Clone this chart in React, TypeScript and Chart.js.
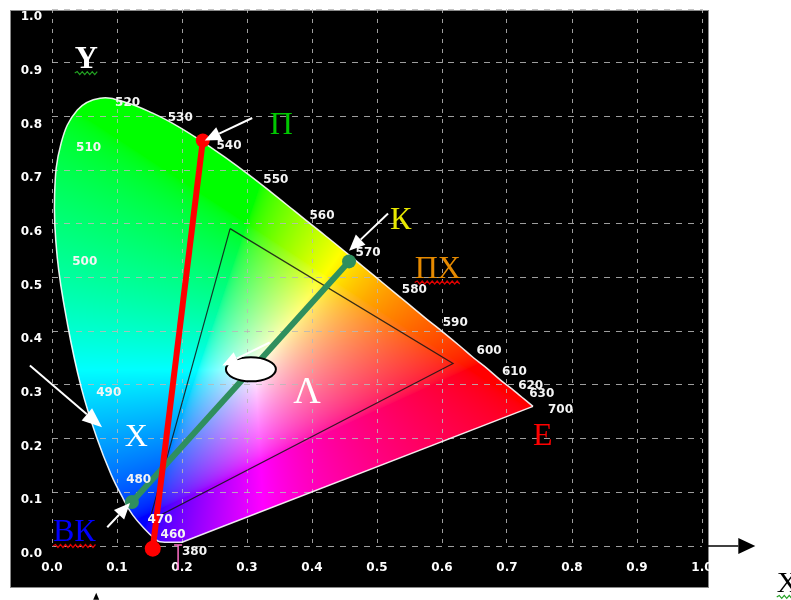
import React, { useEffect, useRef } from 'react';
import { Chart, registerables } from 'chart.js';
Chart.register(...registerables);

// Spectral locus (CIE xy)
const WAVELENGTHS = [380, 440, 450, 460, 470, 475, 480, 485, 490, 495, 500, 505, 510, 515, 520, 525, 530, 535, 540, 545, 550, 555, 560, 565, 570, 575, 580, 585, 590, 595, 600, 605, 610, 620, 630, 640, 650, 700];
const LOCUS_X = [0.200, 0.166, 0.157, 0.144, 0.124, 0.110, 0.091, 0.069, 0.045, 0.024, 0.008, 0.004, 0.014, 0.039, 0.074, 0.114, 0.155, 0.193, 0.230, 0.266, 0.302, 0.337, 0.373, 0.409, 0.444, 0.479, 0.512, 0.545, 0.575, 0.603, 0.627, 0.648, 0.666, 0.691, 0.708, 0.719, 0.728, 0.740];
const LOCUS_Y = [0.007, 0.008, 0.015, 0.030, 0.058, 0.087, 0.133, 0.201, 0.295, 0.412, 0.538, 0.655, 0.750, 0.812, 0.834, 0.826, 0.806, 0.782, 0.754, 0.724, 0.692, 0.659, 0.624, 0.589, 0.555, 0.520, 0.487, 0.454, 0.424, 0.397, 0.373, 0.351, 0.334, 0.308, 0.292, 0.281, 0.272, 0.260];
const LABELLED_WAVELENGTHS = [380, 460, 470, 480, 490, 500, 510, 520, 530, 540, 550, 560, 570, 580, 590, 600, 610, 620, 630, 700];

// Red line (П)
const RED_X = [0.155, 0.232];
const RED_Y = [-0.005, 0.755];
// Green line (ВК – К)
const GREEN_X = [0.123, 0.457];
const GREEN_Y = [0.082, 0.530];
// Triangle (Λ)
const TRI_X = [0.274, 0.617, 0.150, 0.274];
const TRI_Y = [0.591, 0.340, 0.047, 0.591];
// White point ellipse centre
const WHITE_X = 0.306;
const WHITE_Y = 0.329;

const TICK_LABELS = ['0.0', '0.1', '0.2', '0.3', '0.4', '0.5', '0.6', '0.7', '0.8', '0.9', '1.0'];

// Annotations (data coordinates)
const ARROWS = [
  { x0: 0.308, y0: 0.797, x1: 0.235, y1: 0.755 },
  { x0: 0.517, y0: 0.619, x1: 0.457, y1: 0.550 },
  { x0: 0.335, y0: 0.379, x1: 0.262, y1: 0.336 },
  { x0: -0.034, y0: 0.336, x1: 0.077, y1: 0.221 },
  { x0: 0.085, y0: 0.035, x1: 0.120, y1: 0.080 },
];
const LETTERS = [
  { text: 'Y', x: 0.035, y: 0.890, color: '#ffffff', font: 'bold 32px "Liberation Serif"', squiggle: '#22a022' },
  { text: 'П', x: 0.335, y: 0.768, color: '#00c800', font: '32px "Liberation Serif"' },
  { text: 'К', x: 0.520, y: 0.591, color: '#e8e800', font: '32px "Liberation Serif"' },
  { text: 'ПХ', x: 0.558, y: 0.500, color: '#e68a00', font: '32px "Liberation Serif"', squiggle: '#e00000' },
  { text: 'Λ', x: 0.371, y: 0.266, color: '#ffffff', font: '38px "Liberation Serif"' },
  { text: 'Х', x: 0.112, y: 0.186, color: '#ffffff', font: '32px "Liberation Serif"' },
  { text: 'Е', x: 0.740, y: 0.188, color: '#ff0000', font: '32px "Liberation Serif"' },
  { text: 'ВК', x: 0.0015, y: 0.0093, color: '#0000ff', font: '32px "Liberation Serif"', squiggle: '#e00000' },
  { text: 'X', x: 1.115, y: -0.0855, color: '#000000', font: '30px "Liberation Serif"', squiggle: '#22a022' },
];

const CURVE_INDEX = 3;

function xyToRgb(x: number, y: number): [number, number, number] {
  const X = x / y;
  const Y = 1;
  const Z = (1 - x - y) / y;
  let r = 3.2406 * X - 1.5372 * Y - 0.4986 * Z;
  let g = -0.9689 * X + 1.8758 * Y + 0.0415 * Z;
  let b = 0.0557 * X - 0.204 * Y + 1.057 * Z;
  r = Math.max(r, 0); g = Math.max(g, 0); b = Math.max(b, 0);
  const m = Math.max(r, g, b) || 1;
  const gm = 1 / 1.8;
  return [Math.pow(r / m, gm) * 255, Math.pow(g / m, gm) * 255, Math.pow(b / m, gm) * 255];
}

function locusPath(chart: any, ctx: CanvasRenderingContext2D) {
  const meta = chart.getDatasetMeta(CURVE_INDEX);
  if (meta.dataset && meta.dataset.updateControlPoints) meta.dataset.updateControlPoints(chart.chartArea, 'x');
  const pts = meta.data as any[];
  ctx.beginPath();
  ctx.moveTo(pts[0].x, pts[0].y);
  for (let i = 1; i < pts.length; i++) {
    const p = pts[i - 1], q = pts[i];
    if (p.cp2x !== undefined && q.cp1x !== undefined) ctx.bezierCurveTo(p.cp2x, p.cp2y, q.cp1x, q.cp1y, q.x, q.y);
    else ctx.lineTo(q.x, q.y);
  }
  ctx.closePath();
}

const backdropPlugin = {
  id: 'backdrop',
  beforeDraw(chart: any) {
    const { ctx, chartArea } = chart;
    const xs = chart.scales.x, ys = chart.scales.y;
    ctx.save();
    ctx.fillStyle = '#000';
    ctx.fillRect(10, 10, 698, 577);
    ctx.strokeStyle = '#8a8a8a';
    ctx.lineWidth = 1;
    ctx.strokeRect(10.5, 10.5, 698, 577);

    const left = Math.floor(chartArea.left), top = Math.floor(chartArea.top);
    const w = Math.ceil(chartArea.right - chartArea.left), h = Math.ceil(chartArea.bottom - chartArea.top) + 2;
    const off = document.createElement('canvas');
    off.width = w; off.height = h;
    const octx = off.getContext('2d')!;
    const img = octx.createImageData(w, h);
    for (let j = 0; j < h; j++) {
      const yv = Math.max(ys.getValueForPixel(top + j + 0.5), 0.002);
      for (let i = 0; i < w; i++) {
        const xv = xs.getValueForPixel(left + i + 0.5);
        const [r, g, b] = xyToRgb(xv, yv);
        const k = (j * w + i) * 4;
        img.data[k] = r; img.data[k + 1] = g; img.data[k + 2] = b; img.data[k + 3] = 255;
      }
    }
    octx.putImageData(img, 0, 0);
    locusPath(chart, ctx);
    ctx.clip();
    ctx.drawImage(off, left, top);
    ctx.restore();
  },
};

function drawArrow(ctx: CanvasRenderingContext2D, x0: number, y0: number, x1: number, y1: number, color: string, len = 16, half = 7, width = 2) {
  const ang = Math.atan2(y1 - y0, x1 - x0);
  const bx = x1 - Math.cos(ang) * len, by = y1 - Math.sin(ang) * len;
  ctx.strokeStyle = color; ctx.fillStyle = color; ctx.lineWidth = width;
  ctx.beginPath(); ctx.moveTo(x0, y0); ctx.lineTo(bx, by); ctx.stroke();
  ctx.beginPath();
  ctx.moveTo(x1, y1);
  ctx.lineTo(bx + Math.sin(ang) * half, by - Math.cos(ang) * half);
  ctx.lineTo(bx - Math.sin(ang) * half, by + Math.cos(ang) * half);
  ctx.closePath(); ctx.fill();
}

function squiggle(ctx: CanvasRenderingContext2D, x0: number, x1: number, y: number, color: string) {
  ctx.strokeStyle = color; ctx.lineWidth = 1.2;
  ctx.beginPath(); ctx.moveTo(x0, y);
  let up = true;
  for (let x = x0 + 2.5; x <= x1; x += 2.5) { ctx.lineTo(x, y + (up ? -1.5 : 1.5)); up = !up; }
  ctx.stroke();
}

const overlayPlugin = {
  id: 'overlay',
  afterDatasetsDraw(chart: any) {
    const { ctx } = chart;
    const xs = chart.scales.x, ys = chart.scales.y;
    const P = (x: number, y: number) => [xs.getPixelForValue(x), ys.getPixelForValue(y)];
    ctx.save();

    // white point ellipse
    const [ex, ey] = P(WHITE_X, WHITE_Y);
    ctx.beginPath();
    ctx.ellipse(ex, ey, 25, 12, 0, 0, Math.PI * 2);
    ctx.fillStyle = '#fff'; ctx.fill();
    ctx.strokeStyle = '#000'; ctx.lineWidth = 2; ctx.stroke();

    // wavelength labels
    ctx.font = 'bold 12px "DejaVu Sans"';
    ctx.fillStyle = '#f4f4f4';
    ctx.textBaseline = 'middle';
    ctx.textAlign = 'left';
    LABELLED_WAVELENGTHS.forEach((wl) => {
      const i = WAVELENGTHS.indexOf(wl);
      const [px, py] = P(LOCUS_X[i], LOCUS_Y[i]);
      let dx = 15, dy = 5;
      if (wl === 380) { dx = 0; dy = 10; }
      if (wl >= 580 && wl <= 630) dx = 17;
      if (wl === 700) dy = 3;
      ctx.fillText(String(wl), px + dx, py + dy);
    });

    // 380 pink marker
    const [mx, my] = P(0.194, 0.002);
    ctx.strokeStyle = '#ff6ec7'; ctx.lineWidth = 1.5;
    ctx.beginPath(); ctx.moveTo(mx - 4, my); ctx.lineTo(mx + 4, my); ctx.moveTo(mx, my); ctx.lineTo(mx, my + 25); ctx.stroke();

    // arrows
    ARROWS.forEach((a, k) => {
      const [x0, y0] = P(a.x0, a.y0);
      const [x1, y1] = P(a.x1, a.y1);
      drawArrow(ctx, x0, y0, x1, y1, '#ffffff', k === 3 ? 20 : 16, k === 3 ? 8 : 7, 2);
    });

    // x-axis arrow outside the frame
    const [ax0, ay] = P(1.009, 0);
    const [ax1] = P(1.082, 0);
    drawArrow(ctx, ax0, ay, ax1, ay, '#000000', 17, 8, 1.5);

    // small mark at the very bottom
    const [tx, ty] = P(0.068, -0.087);
    ctx.fillStyle = '#000';
    ctx.beginPath(); ctx.moveTo(tx, ty); ctx.lineTo(tx - 3, ty + 7); ctx.lineTo(tx + 3, ty + 7); ctx.closePath(); ctx.fill();

    // letters
    ctx.textBaseline = 'alphabetic';
    LETTERS.forEach((l) => {
      const [px, py] = P(l.x, l.y);
      ctx.font = l.font;
      ctx.fillStyle = l.color;
      ctx.fillText(l.text, px, py);
      if (l.squiggle) {
        const w = ctx.measureText(l.text).width;
        squiggle(ctx, px, px + w, py + 5, l.squiggle);
      }
    });
    ctx.restore();
  },
};

export default function App() {
  const ref = useRef<HTMLCanvasElement>(null);
  useEffect(() => {
    if (!ref.current) return;
    const pts = (xs: number[], ys: number[]) => xs.map((x, i) => ({ x, y: ys[i] }));
    const locusPts = pts(LOCUS_X, LOCUS_Y);
    const tickFont = { family: '"DejaVu Sans"', size: 12, weight: 'bold' as const };
    const chart = new Chart(ref.current, {
      type: 'scatter',
      data: {
        datasets: [
          {
            data: pts(RED_X, RED_Y), showLine: true, borderColor: '#ff0000', borderWidth: 6,
            pointRadius: [8, 7], pointBackgroundColor: '#ff0000', pointBorderWidth: 0, clip: false as any,
          },
          {
            data: pts(GREEN_X, GREEN_Y), showLine: true, borderColor: '#2f8f5e', borderWidth: 6,
            pointRadius: 7, pointBackgroundColor: '#2f8f5e', pointBorderWidth: 0, clip: false as any,
          },
          {
            data: pts(TRI_X, TRI_Y), showLine: true, borderColor: 'rgba(20,20,20,0.85)', borderWidth: 1.2,
            pointRadius: 0,
          },
          {
            // spectral curve (smooth)
            data: locusPts, showLine: true, tension: 0.4,
            borderColor: 'rgba(255,255,255,0.9)', borderWidth: 1.5, pointRadius: 0, clip: false as any,
          },
          {
            // purple line
            data: [locusPts[locusPts.length - 1], locusPts[0]], showLine: true,
            borderColor: 'rgba(255,255,255,0.9)', borderWidth: 1.5, pointRadius: 0, clip: false as any,
          },
        ],
      },
      options: {
        animation: false,
        responsive: false,
        events: [],
        layout: { padding: { left: 0, top: 9, right: 89, bottom: 0 } },
        plugins: { legend: { display: false }, tooltip: { enabled: false } },
        scales: {
          x: {
            type: 'linear', min: 0, max: 1,
            afterFit: (s: any) => { s.height = 54; s.paddingLeft = 0; s.paddingRight = 0; },
            ticks: {
              stepSize: 0.1, autoSkip: false, maxRotation: 0, padding: 15, color: '#ffffff', font: tickFont,
              callback: (_v: any, i: number) => TICK_LABELS[i],
            },
            grid: { color: 'rgba(185,185,185,0.85)', lineWidth: 1, drawTicks: false, tickLength: 0 },
            border: { display: false, dash: [4, 6] },
          },
          y: {
            type: 'linear', min: 0, max: 1,
            afterFit: (s: any) => { s.width = 52; s.paddingTop = 0; s.paddingBottom = 0; },
            ticks: {
              stepSize: 0.1, autoSkip: false, padding: 10, labelOffset: 8, color: '#ffffff', font: tickFont,
              callback: (_v: any, i: number) => TICK_LABELS[i],
            },
            grid: { color: 'rgba(185,185,185,0.85)', lineWidth: 1, drawTicks: false, tickLength: 0 },
            border: { display: false, dash: [6, 6] },
          },
        },
      },
      plugins: [backdropPlugin, overlayPlugin],
    });
    return () => chart.destroy();
  }, []);
  return (
    <div style={{ position: 'absolute', left: 0, top: 0, width: 791, height: 600, background: '#fff' }}>
      <canvas ref={ref} width={791} height={600} />
    </div>
  );
}
